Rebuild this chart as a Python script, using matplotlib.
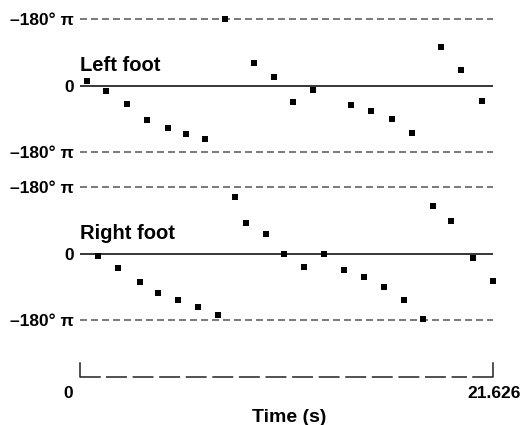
import numpy as np
import matplotlib.pyplot as plt

plt.rcParams['font.family'] = ['Liberation Sans', 'DejaVu Sans']

# relative phase (time in s, phase in degrees)
left_t = [0.38, 1.36, 2.45, 3.52, 4.59, 5.55, 6.55, 7.61, 9.13, 10.16,
          11.17, 12.18, 14.21, 15.25, 16.32, 17.40, 18.89, 19.97, 21.05]
left_phase = [13, -16, -51, -93, -116, -132, -144, 180, 61, 22,
              -44, -13, -54, -70, -91, -128, 105, 41, -42]

right_t = [0.94, 2.01, 3.12, 4.07, 5.15, 6.16, 7.21, 8.13, 8.68, 9.72, 10.68,
           11.71, 12.76, 13.82, 14.85, 15.92, 16.98, 17.94, 18.50, 19.44,
           20.58, 21.61]
right_phase = [-7, -40, -78, -108, -125, -145, -166, 152, 82, 53, 0,
               -36, 0, -45, -64, -90, -125, -176, 129, 88,
               -11, -74]

t_end = 21.626
feet = [("Left foot", left_t, left_phase), ("Right foot", right_t, right_phase)]

W, H = 525, 425
fig = plt.figure(figsize=(W / 100, H / 100), dpi=100)
ax_left = fig.add_axes([80 / W, 1 - 159.4 / H, 413 / W, 147.8 / H])
ax_right = fig.add_axes([80 / W, 1 - 327.4 / H, 413 / W, 147.8 / H])
ax_time = fig.add_axes([80 / W, 1 - 377 / H, 413 / W, 14 / H])

for ax, (name, t, ph) in zip([ax_left, ax_right], feet):
    ax.set_xlim(0, t_end)
    ax.set_ylim(-200, 200)
    ax.axhline(0, color="black", lw=1.1)
    for lev in (180, -180):
        ax.axhline(lev, color="#555555", lw=1.1, dashes=(4.6, 2.6))
    ax.plot(t, ph, "s", color="black", ms=4.3, mew=0, clip_on=False)
    ax.text(0, 40, name, fontsize=14.5, fontweight="bold", ha="left", va="baseline")
    ax.set_yticks([180, 0, -180])
    ax.set_yticklabels(["\u2013180\u00b0 \u03c0", "0", "\u2013180\u00b0 \u03c0"],
                       fontsize=12.5, fontweight="bold")
    ax.tick_params(axis="y", length=0, pad=4.5)
    ax.set_xticks([])
    for s in ax.spines.values():
        s.set_visible(False)
    ax.patch.set_alpha(0)

# time bracket
gap = 1.05
ax_time.set_xlim(0, t_end)
ax_time.set_ylim(0, 1)
ax_time.plot([0, 0, gap], [1.0, 0.0, 0.0], color="#222222", lw=1.1, clip_on=False)
ax_time.plot([t_end - gap, t_end, t_end], [0.0, 0.0, 1.0], color="#222222", lw=1.1,
             clip_on=False)
ax_time.plot([gap + 0.3, t_end - gap - 0.3], [0, 0], color="#222222", lw=1.1,
             dashes=(13.7, 3.7), clip_on=False)
ax_time.axis("off")

fig.text(73 / W, 1 - 393 / H, "0", fontsize=12.5, fontweight="bold",
         ha="right", va="center")
fig.text(494 / W, 1 - 393.5 / H, "21.626", fontsize=12.5, fontweight="bold",
         ha="center", va="center")
fig.text(289 / W, 1 - 421.5 / H, "Time (s)", fontsize=14, fontweight="bold",
         ha="center", va="baseline")

fig.savefig("out.png", dpi=100)
